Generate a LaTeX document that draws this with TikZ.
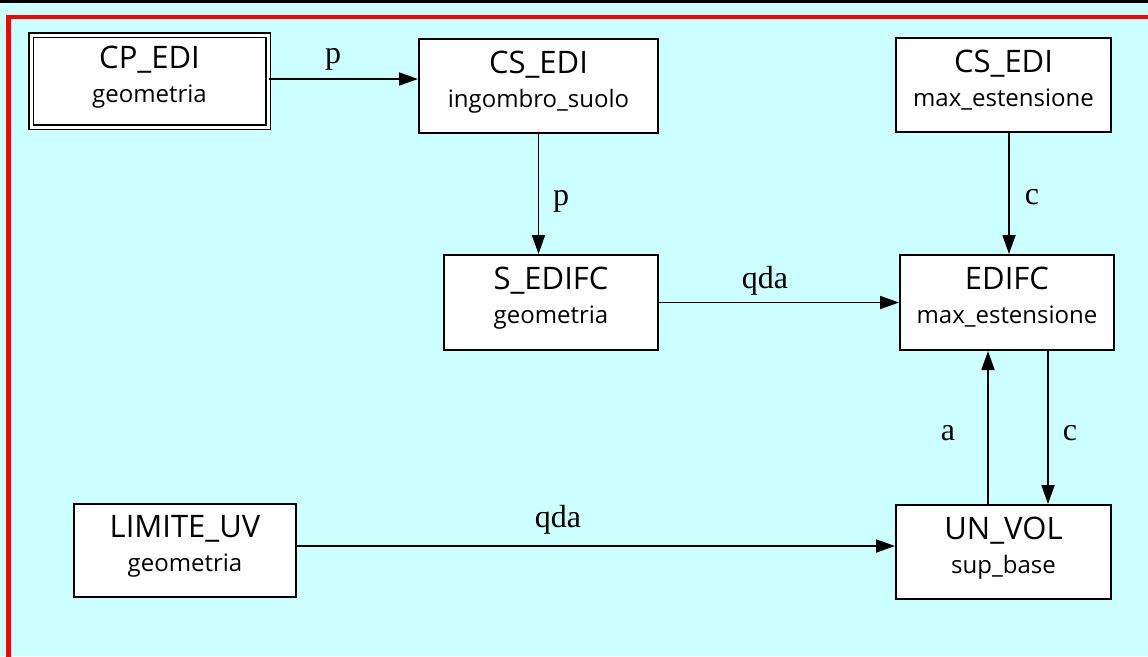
\documentclass[tikz,border=0pt]{standalone}
\usepackage{fontspec}
\setmainfont{Liberation Serif}
\newfontfamily\boxfont{Open Sans}
\usetikzlibrary{arrows.meta}
\definecolor{bgcyan}{RGB}{204,255,255}
\definecolor{framered}{RGB}{255,0,0}
\tikzset{
  ent/.style={draw=black, line width=2pt, fill=white, inner sep=0pt, align=center,
    font=\boxfont\fontsize{31}{34}\selectfont},
  dblent/.style={ent, line width=1.6pt, double=white, double distance=3pt},
  conn/.style={line width=1.8pt, -{Triangle[length=19pt,width=13pt]}},
  lbl/.style={font=\fontsize{32}{36}\selectfont, inner sep=0pt, anchor=base}
}
\newcommand{\sub}[1]{{\fontsize{24}{27}\selectfont #1}\rule[-14pt]{0pt}{1pt}}
\begin{document}
\begin{tikzpicture}[x=1pt,y=-1pt]
\useasboundingbox (0,0) rectangle (1148,656);
\fill[bgcyan] (0,0) rectangle (1148,656);
\fill[black] (0,0) rectangle (1148,2.5);
\draw[framered, line width=4.8pt] (8.5,660) -- (8.5,17) -- (1152,17);

\node[dblent, minimum width=237pt, minimum height=92pt] (CPEDI) at (149.5,81) {CP\_EDI\\\sub{geometria}};
\node[ent, minimum width=239pt, minimum height=94pt] (CSI) at (538.5,86) {CS\_EDI\\\sub{ingombro\_suolo}};
\node[ent, minimum width=215pt, minimum height=94pt] (CSM) at (1003.5,85) {CS\_EDI\\\sub{max\_estensione}};
\node[ent, minimum width=214pt, minimum height=95pt] (SED) at (551,302.5) {S\_EDIFC\\\sub{geometria}};
\node[ent, minimum width=214pt, minimum height=95pt] (EDF) at (1007,302.5) {EDIFC\\\sub{max\_estensione}};
\node[ent, minimum width=222pt, minimum height=93pt] (LIM) at (185,550.5) {LIMITE\_UV\\\sub{geometria}};
\node[ent, minimum width=215pt, minimum height=94pt] (UNV) at (1003.5,552) {UN\_VOL\\\sub{sup\_base}};

\draw[conn] ([yshift=2pt]CPEDI.east) -- ([yshift=2pt]CPEDI.east -| CSI.west);
\draw[conn] (CSI.south) -- (CSI.south |- SED.north);
\draw[conn] (SED.east) -- (SED.east -| EDF.west);
\draw[conn] ([xshift=5.5pt]CSM.south) -- ([xshift=5.5pt]CSM.south |- EDF.north);
\draw[conn] ([xshift=-15.5pt]UNV.north) -- ([xshift=-15.5pt]UNV.north |- EDF.south);
\draw[conn] ([xshift=41pt]EDF.south) -- ([xshift=41pt]EDF.south |- UNV.north);
\draw[conn] ([yshift=4.5pt]LIM.east) -- ([yshift=4.5pt]LIM.east -| UNV.west);

\node[lbl] (l1) at (333,63) {p};
\node[lbl] (l2) at (561,205) {p};
\node[lbl] (l3) at (765,288) {qda};
\node[lbl] (l4) at (1032,204) {c};
\node[lbl] (l5) at (948,440) {a};
\node[lbl] (l6) at (1070,440) {c};
\node[lbl] (l7) at (558,527) {qda};
\end{tikzpicture}
\end{document}
